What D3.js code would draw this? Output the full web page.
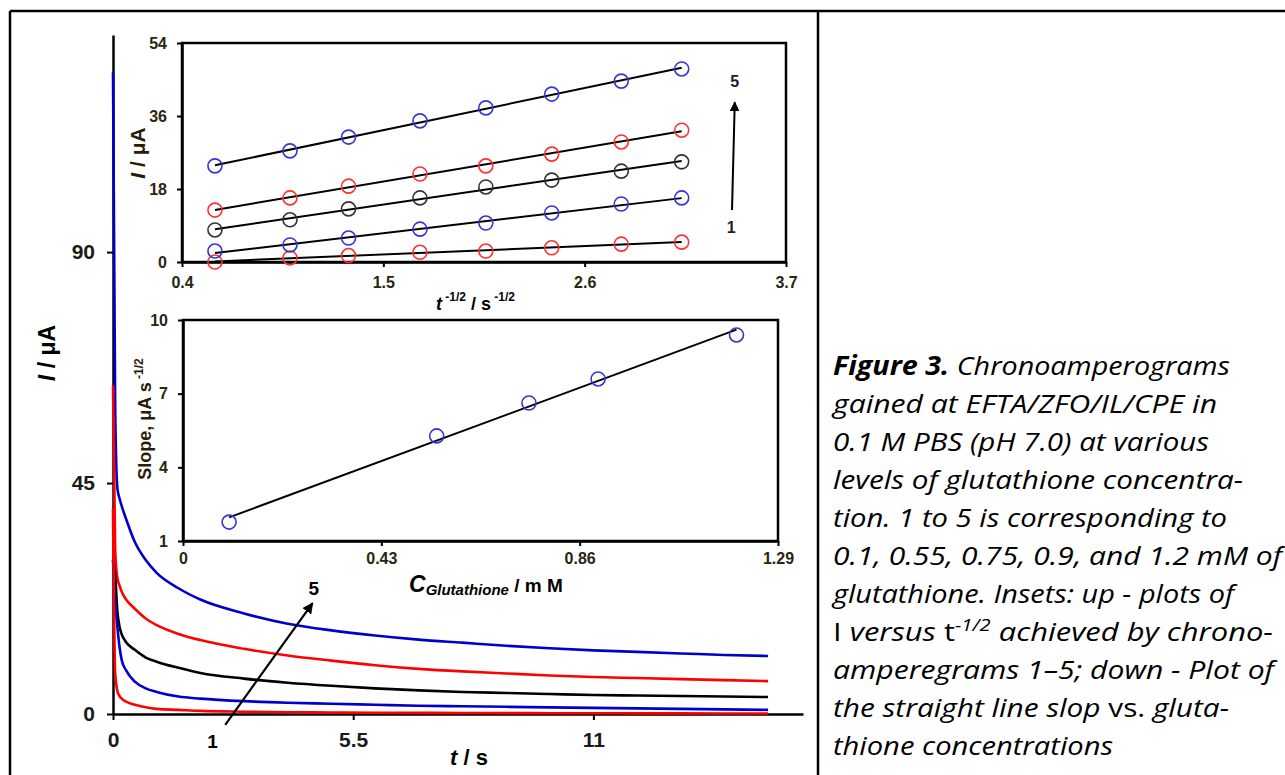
<!DOCTYPE html>
<html>
<head>
<meta charset="utf-8">
<script src="https://cdn.jsdelivr.net/npm/d3@7"></script>
<style>
  body { margin: 0; background: #fff; }
  svg { display: block; }
  text { font-family: "Liberation Sans", Arial, sans-serif; }
</style>
</head>
<body>
<div id="chart"></div>
<script>
const width = 1285;
const height = 775;

// main chronoamperograms, I (µA) against t (s)
const times = [0, 0.05, 0.1, 0.15, 0.2, 0.3, 0.5, 0.75, 1, 1.5, 2, 3, 4, 5, 6, 7, 8, 9, 10, 11, 12, 13, 14, 15];
const curve1 = [40, 8, 4.5, 3.5, 3.0, 2.4, 1.8, 1.3, 1.0, 0.8, 0.6, 0.45, 0.35, 0.3, 0.25, 0.22, 0.2, 0.18, 0.16, 0.15, 0.13, 0.12, 0.11, 0.1];
const curve2 = [30, 22, 17, 13, 10.5, 8.5, 6.3, 5.0, 4.3, 3.4, 3.0, 2.5, 2.2, 2.0, 1.8, 1.6, 1.5, 1.4, 1.3, 1.2, 1.1, 1.0, 0.9, 0.8];
const curve3 = [30, 27, 20, 17, 15.5, 14, 12.5, 11, 10.2, 9.0, 8.0, 6.9, 6.1, 5.5, 5.0, 4.6, 4.3, 4.1, 3.9, 3.7, 3.6, 3.5, 3.4, 3.3];
const curve4 = [64, 32, 26.5, 25, 23.8, 22.3, 20.5, 18.6, 17.3, 15.6, 14.4, 12.7, 11.4, 10.4, 9.5, 8.8, 8.3, 7.9, 7.5, 7.2, 7.0, 6.8, 6.6, 6.4];
const curve5 = [125, 60, 44, 42, 40.5, 38, 33.5, 30, 27.5, 24.5, 22.3, 19.6, 17.6, 16.3, 15.3, 14.5, 13.9, 13.3, 12.8, 12.4, 12.1, 11.8, 11.5, 11.3];
const curveColors = ["#ff0000", "#0000cc", "#000000", "#ff0000", "#0000cc"];
const mainXTicks = [0, 5.5, 11];
const mainYTicks = [0, 45, 90];

// upper inset, I against t^-1/2
const invSqrtT = [0.58, 0.99, 1.31, 1.70, 2.06, 2.42, 2.80, 3.13];
const inset1 = [0.0, 1.0, 1.6, 2.4, 2.7, 3.5, 4.4, 4.9];
const inset2 = [2.7, 4.2, 5.9, 8.1, 9.6, 12.1, 14.3, 15.8];
const inset3 = [7.9, 10.4, 13.1, 15.8, 18.5, 20.2, 22.4, 24.7];
const inset4 = [12.8, 15.8, 18.7, 21.7, 23.7, 26.6, 29.6, 32.5];
const inset5 = [23.7, 27.4, 30.8, 34.8, 38.0, 41.4, 44.6, 47.6];
const markerColors = ["#ff3030", "#3535d5", "#333333", "#ff3030", "#3535d5"];
const topXTicks = [0.4, 1.5, 2.6, 3.7];
const topYTicks = [0, 18, 36, 54];

// lower inset, slope against concentration
const concentrations = [0.1, 0.55, 0.75, 0.9, 1.2];
const slopes = [1.77, 5.28, 6.62, 7.60, 9.39];
const lowXTicks = [0, 0.43, 0.86, 1.29];
const lowYTicks = [1, 4, 7, 10];

const captionLines = [
  [{ t: "Figure 3.", bold: true }, { t: " Chronoamperograms" }],
  [{ t: "gained at EFTA/ZFO/IL/CPE in" }],
  [{ t: "0.1 M PBS (pH 7.0) at various" }],
  [{ t: "levels of glutathione concentra-" }],
  [{ t: "tion. 1 to 5 is corresponding to" }],
  [{ t: "0.1, 0.55, 0.75, 0.9, and 1.2 mM of" }],
  [{ t: "glutathione. Insets: up - plots of" }],
  [{ t: "I", up: true }, { t: " versus " }, { t: "t", up: true }, { t: "-1/2", sup: true }, { t: " achieved by chrono-", down: true }],
  [{ t: "amperegrams 1\u20135; down - Plot of" }],
  [{ t: "the straight line slop " }, { t: "vs.", up: true }, { t: " gluta-" }],
  [{ t: "thione concentrations" }],
];
const captionWidths = [397, 384, 376, 410, 394, 449, 401, 440, 441, 396, 280];

const svg = d3.select("#chart").append("svg")
  .attr("width", width)
  .attr("height", height);

svg.append("rect").attr("width", width).attr("height", height).attr("fill", "#fff");

svg.append("defs").append("marker")
  .attr("id", "head")
  .attr("viewBox", "0 0 10 10")
  .attr("refX", 9).attr("refY", 5)
  .attr("markerWidth", 5).attr("markerHeight", 5)
  .attr("markerUnits", "strokeWidth")
  .attr("orient", "auto")
  .append("path").attr("d", "M0,0L10,5L0,10z").attr("fill", "#000");

// table frame
const frame = svg.append("g").attr("stroke", "#000").attr("stroke-width", 2.5);
frame.append("line").attr("x1", 10).attr("x2", width).attr("y1", 11).attr("y2", 11);
frame.append("line").attr("x1", 10).attr("x2", 10).attr("y1", 11).attr("y2", height);
frame.append("line").attr("x1", 818).attr("x2", 818).attr("y1", 11).attr("y2", height);

function styleAxis(g, size, color) {
  g.selectAll("path.domain").attr("stroke", "#000").attr("stroke-width", 2.5);
  g.selectAll(".tick line").attr("stroke", "#000").attr("stroke-width", 2);
  g.selectAll(".tick text")
    .attr("font-size", size)
    .attr("font-weight", "bold")
    .attr("fill", color || "#1a1a1a")
    .attr("font-family", "'Liberation Sans', Arial, sans-serif");
}

// ---------- main chart ----------
const x = d3.scaleLinear().domain([0, 15.8]).range([113, 803]);
const y = d3.scaleLinear().domain([0, 132.3]).range([714, 35]);

svg.append("g")
  .attr("transform", `translate(${x(0)},0)`)
  .call(d3.axisLeft(y).tickValues(mainYTicks).tickFormat(d3.format("")).tickSize(6).tickPadding(12).tickSizeOuter(0))
  .call((g) => styleAxis(g, 21));

svg.append("g")
  .attr("transform", `translate(0,${y(0)})`)
  .call(d3.axisBottom(x).tickValues(mainXTicks).tickFormat(d3.format("")).tickSize(6).tickPadding(12).tickSizeOuter(0))
  .call((g) => styleAxis(g, 21));

const line = d3.line()
  .x((d) => x(d[0]))
  .y((d) => y(d[1]))
  .curve(d3.curveMonotoneX);

const curves = [curve5, curve4, curve3, curve2, curve1];
const curveOrder = [4, 3, 2, 1, 0];
svg.append("g")
  .selectAll("path")
  .data(curves)
  .join("path")
  .attr("d", (values) => line(times.map((t, i) => [t, values[i]])))
  .attr("fill", "none")
  .attr("stroke", (d, i) => curveColors[curveOrder[i]])
  .attr("stroke-width", 2.6);

svg.append("line")
  .attr("x1", x(2.57)).attr("y1", y(-2.1))
  .attr("x2", x(4.57)).attr("y2", y(21.6))
  .attr("stroke", "#000").attr("stroke-width", 2.2)
  .attr("marker-end", "url(#head)");

svg.append("text").attr("x", x(4.6)).attr("y", 595)
  .attr("text-anchor", "middle").attr("font-size", 19).attr("font-weight", "bold").text("5");
svg.append("text").attr("x", x(2.28)).attr("y", 748)
  .attr("text-anchor", "middle").attr("font-size", 19).attr("font-weight", "bold").text("1");

const mainYTitle = svg.append("text")
  .attr("transform", "translate(55,353) rotate(-90)")
  .attr("text-anchor", "middle")
  .attr("font-size", 23)
  .attr("font-weight", "bold");
mainYTitle.append("tspan").attr("font-style", "italic").text("I");
mainYTitle.append("tspan").text(" / \u03bcA");

const mainXTitle = svg.append("text")
  .attr("x", 450).attr("y", 765)
  .attr("font-size", 22)
  .attr("font-weight", "bold");
mainXTitle.append("tspan").attr("font-style", "italic").text("t");
mainXTitle.append("tspan").text("  / s");

// ---------- upper inset ----------
const x1 = d3.scaleLinear().domain([0.4, 3.7]).range([182, 786]);
const y1 = d3.scaleLinear().domain([0, 54]).range([262, 43]);

const topInset = svg.append("g");
topInset.append("rect")
  .attr("x", x1(0.4)).attr("y", y1(54))
  .attr("width", x1(3.7) - x1(0.4)).attr("height", y1(0) - y1(54))
  .attr("fill", "#fff").attr("stroke", "#000").attr("stroke-width", 2.5);

topInset.append("g")
  .attr("transform", `translate(${x1(0.4)},0)`)
  .call(d3.axisLeft(y1).tickValues(topYTicks).tickSize(5).tickPadding(10).tickSizeOuter(0))
  .call((g) => styleAxis(g, 16, "#2a2510"));

topInset.append("g")
  .attr("transform", `translate(0,${y1(0)})`)
  .call(d3.axisBottom(x1).tickValues(topXTicks).tickFormat(d3.format(".1f")).tickSize(5).tickPadding(10).tickSizeOuter(0))
  .call((g) => styleAxis(g, 16, "#2a2510"));

function fit(xs, ys) {
  const mx = d3.mean(xs);
  const my = d3.mean(ys);
  const sxy = d3.sum(xs, (v, i) => (v - mx) * (ys[i] - my));
  const sxx = d3.sum(xs, (v) => (v - mx) * (v - mx));
  const b = sxy / sxx;
  return { b, a: my - b * mx };
}

const insetSeries = [inset1, inset2, inset3, inset4, inset5];
insetSeries.forEach((values, k) => {
  const f = fit(invSqrtT, values);
  const x0 = invSqrtT[0];
  const xn = invSqrtT[invSqrtT.length - 1];
  topInset.append("line")
    .attr("x1", x1(x0)).attr("y1", y1(f.a + f.b * x0))
    .attr("x2", x1(xn)).attr("y2", y1(f.a + f.b * xn))
    .attr("stroke", "#000").attr("stroke-width", 2);
  topInset.append("g")
    .selectAll("circle")
    .data(values)
    .join("circle")
    .attr("cx", (d, i) => x1(invSqrtT[i]))
    .attr("cy", (d) => y1(d))
    .attr("r", 7)
    .attr("fill", "none")
    .attr("stroke", markerColors[k])
    .attr("stroke-width", 1.6);
});

topInset.append("line")
  .attr("x1", x1(3.405)).attr("y1", y1(12.8))
  .attr("x2", x1(3.42)).attr("y2", y1(39.4))
  .attr("stroke", "#000").attr("stroke-width", 2)
  .attr("marker-end", "url(#head)");
topInset.append("text").attr("x", x1(3.42)).attr("y", 87)
  .attr("text-anchor", "middle").attr("font-size", 16).attr("font-weight", "bold").attr("fill", "#1a1a30").text("5");
topInset.append("text").attr("x", x1(3.40)).attr("y", 233)
  .attr("text-anchor", "middle").attr("font-size", 16).attr("font-weight", "bold").attr("fill", "#301a1a").text("1");

const topYTitle = topInset.append("text")
  .attr("transform", "translate(145,153) rotate(-90)")
  .attr("text-anchor", "middle")
  .attr("font-size", 21)
  .attr("font-weight", "bold")
  .attr("fill", "#2a1a08");
topYTitle.append("tspan").attr("font-style", "italic").text("I");
topYTitle.append("tspan").text(" / \u03bcA");

const topXTitle = topInset.append("text")
  .attr("x", 436).attr("y", 310)
  .attr("font-size", 18)
  .attr("font-weight", "bold");
topXTitle.append("tspan").attr("font-style", "italic").text("t");
topXTitle.append("tspan").attr("font-size", 12).attr("dy", -9).text(" -1/2");
topXTitle.append("tspan").attr("dy", 9).text(" / s");
topXTitle.append("tspan").attr("font-size", 12).attr("dy", -9).text(" -1/2");

// ---------- lower inset ----------
const x2 = d3.scaleLinear().domain([0, 1.29]).range([183, 778]);
const y2 = d3.scaleLinear().domain([1, 10]).range([541, 320]);

const lowInset = svg.append("g");
lowInset.append("rect")
  .attr("x", x2(0)).attr("y", y2(10))
  .attr("width", x2(1.29) - x2(0)).attr("height", y2(1) - y2(10))
  .attr("fill", "#fff").attr("stroke", "#000").attr("stroke-width", 2.5);

lowInset.append("g")
  .attr("transform", `translate(${x2(0)},0)`)
  .call(d3.axisLeft(y2).tickValues(lowYTicks).tickSize(5).tickPadding(10).tickSizeOuter(0))
  .call((g) => styleAxis(g, 16, "#2a2510"));

lowInset.append("g")
  .attr("transform", `translate(0,${y2(1)})`)
  .call(d3.axisBottom(x2).tickValues(lowXTicks).tickFormat((d) => (d === 0 ? "0" : d3.format(".2f")(d))).tickSize(5).tickPadding(7).tickSizeOuter(0))
  .call((g) => styleAxis(g, 16, "#2a2510"));

const lowFit = fit(concentrations, slopes);
const c0 = concentrations[0];
const cn = concentrations[concentrations.length - 1];
lowInset.append("line")
  .attr("x1", x2(c0)).attr("y1", y2(lowFit.a + lowFit.b * c0))
  .attr("x2", x2(cn)).attr("y2", y2(lowFit.a + lowFit.b * cn))
  .attr("stroke", "#000").attr("stroke-width", 2);

lowInset.append("g")
  .selectAll("circle")
  .data(slopes)
  .join("circle")
  .attr("cx", (d, i) => x2(concentrations[i]))
  .attr("cy", (d) => y2(d))
  .attr("r", 7)
  .attr("fill", "none")
  .attr("stroke", "#3535d5")
  .attr("stroke-width", 1.6);

const lowYTitle = lowInset.append("text")
  .attr("transform", "translate(151,419) rotate(-90)")
  .attr("text-anchor", "middle")
  .attr("font-size", 18)
  .attr("font-weight", "bold")
  .attr("fill", "#2a1a08");
lowYTitle.append("tspan").text("Slope, \u03bcA s");
lowYTitle.append("tspan").attr("font-size", 12).attr("dy", -8).text(" -1/2");

const lowXTitle = lowInset.append("text")
  .attr("x", 409).attr("y", 592)
  .attr("font-weight", "bold");
lowXTitle.append("tspan").attr("font-size", 23).attr("font-style", "italic").text("C");
lowXTitle.append("tspan").attr("font-size", 15).attr("font-style", "italic").attr("dy", 3).text("Glutathione");
lowXTitle.append("tspan").attr("font-size", 19).attr("dy", -3).text(" / m M");

// ---------- caption ----------
const caption = svg.append("g");
captionLines.forEach((parts, i) => {
  const txt = caption.append("text")
    .attr("x", 833)
    .attr("y", 375 + i * 38)
    .attr("font-size", 26)
    .attr("font-style", "italic")
    .attr("fill", "#000")
    .style("font-family", "'Open Sans', sans-serif")
    .attr("textLength", captionWidths[i])
    .attr("lengthAdjust", "spacingAndGlyphs");
  parts.forEach((p) => {
    const span = txt.append("tspan").text(p.t);
    if (p.bold) span.attr("font-weight", "bold");
    if (p.up) span.attr("font-style", "normal");
    if (p.sup) span.attr("font-size", 17).attr("dy", -10);
    if (p.down) span.attr("dy", 10);
  });
});
</script>
</body>
</html>
